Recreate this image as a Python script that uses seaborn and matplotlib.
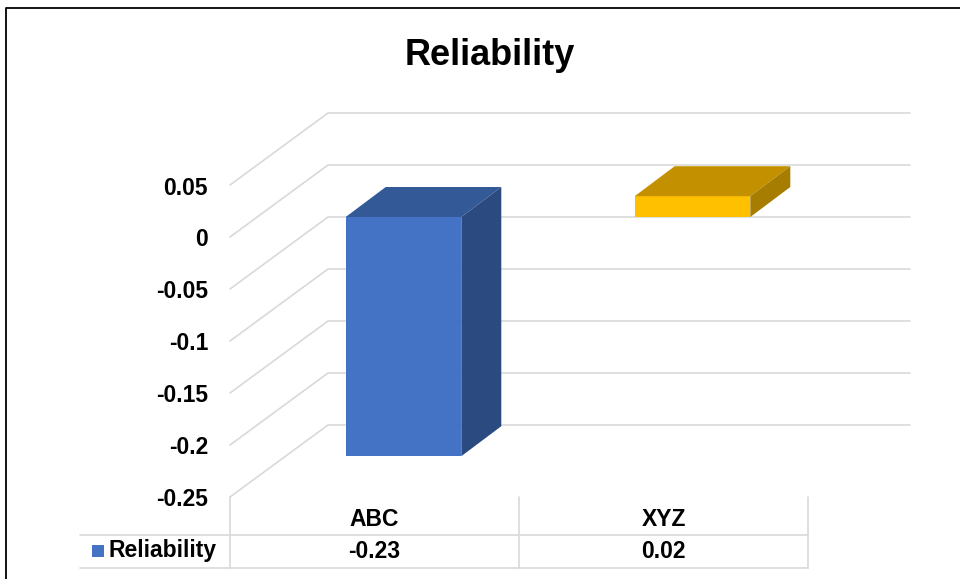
import numpy as np
import pandas as pd
import matplotlib
matplotlib.use('Agg')
import matplotlib.pyplot as plt
import seaborn as sns
from matplotlib.patches import Polygon, Rectangle
from matplotlib.lines import Line2D

# ---- data ----
categories = ['ABC', 'XYZ']
values = [-0.23, 0.02]
series_name = 'Reliability'
value_labels = ['-0.23', '0.02']
yticks = [-0.25, -0.2, -0.15, -0.1, -0.05, 0, 0.05]
ytick_labels = ['-0.25', '-0.2', '-0.15', '-0.1', '-0.05', '0', '0.05']
title = 'Reliability'

front_colors = ['#4472C4', '#FFC000']
top_colors = ['#335A96', '#C39100']
side_colors = ['#2B4A80', '#A67D00']
grid_color = '#D9D9D9'

sns.set_theme(style='white')
plt.rcParams['font.family'] = ['Liberation Sans', 'DejaVu Sans']
plt.rcParams['font.weight'] = 'bold'

W, H = 960, 579
fig = plt.figure(figsize=(W / 100, H / 100), dpi=100)
fig.patch.set_facecolor('white')
ax = fig.add_axes([259 / W, (H - 477) / H, 578 / W, 312 / H])
df = pd.DataFrame({'cat': categories, 'val': values})
sns.barplot(data=df, x='cat', y='val', hue='cat', palette=front_colors,
            width=0.4, saturation=1, legend=False, ax=ax, linewidth=0)
ax.set_xlim(-0.5, 1.5)
ax.set_ylim(min(yticks), max(yticks))
ax.axis('off')

to_fig = fig.transFigure.inverted()


def px(x, y, dx=0.0, dy=0.0):
    p = ax.transData.transform((x, y))
    return to_fig.transform((p[0] + dx, p[1] + dy))


FRONT = (-29, -20)
BACK = (69, 52)
DEPTH = (40, 30)

# walls / gridlines
for v, lab in zip(yticks, ytick_labels):
    f = px(-0.5, v, *FRONT)
    b = px(-0.5, v, *BACK)
    br = px(1.5, v, BACK[0] + 4, BACK[1])
    fig.add_artist(Line2D([f[0], b[0], br[0]], [f[1], b[1], br[1]],
                          color=grid_color, lw=1.2, zorder=-1,
                          transform=fig.transFigure))
    t = px(-0.5, v, FRONT[0] - 22, FRONT[1] - 3)
    fig.text(t[0], t[1], lab, ha='right', va='center', fontsize=16.5,
             fontweight='bold', color='black')

# 3D faces of the bars
for i, patch in enumerate(ax.patches[:len(values)]):
    x0 = patch.get_x()
    x1 = x0 + patch.get_width()
    ya = patch.get_y()
    yb = ya + patch.get_height()
    ytop, ybot = max(ya, yb), min(ya, yb)
    top = [px(x0, ytop), px(x1, ytop), px(x1, ytop, *DEPTH), px(x0, ytop, *DEPTH)]
    side = [px(x1, ybot), px(x1, ytop), px(x1, ytop, *DEPTH), px(x1, ybot, *DEPTH)]
    fig.add_artist(Polygon(top, closed=True, facecolor=top_colors[i],
                           edgecolor='none', transform=fig.transFigure, zorder=1))
    fig.add_artist(Polygon(side, closed=True, facecolor=side_colors[i],
                           edgecolor='none', transform=fig.transFigure, zorder=1))

# data table
ymin = min(yticks)
for bnd in [-0.5, 0.5, 1.5]:
    a = px(bnd, ymin, FRONT[0], FRONT[1])
    c = px(bnd, ymin, FRONT[0], FRONT[1] - 71)
    fig.add_artist(Line2D([a[0], c[0]], [a[1], c[1]], color=grid_color, lw=1.2,
                          transform=fig.transFigure))
for dy in [-38, -71]:
    a = px(-0.5, ymin, FRONT[0] - 150, FRONT[1] + dy)
    c = px(1.5, ymin, FRONT[0], FRONT[1] + dy)
    fig.add_artist(Line2D([a[0], c[0]], [a[1], c[1]], color=grid_color, lw=1.2,
                          transform=fig.transFigure))

for i, (cat, vl) in enumerate(zip(categories, value_labels)):
    t = px(i, ymin, FRONT[0], FRONT[1] - 23)
    fig.text(t[0], t[1], cat, ha='center', va='center', fontsize=16.5,
             fontweight='bold', color='black')
    t = px(i, ymin, FRONT[0], FRONT[1] - 55)
    fig.text(t[0], t[1], vl, ha='center', va='center', fontsize=16.5,
             fontweight='bold', color='black')

# legend key in table
k0 = px(-0.5, ymin, FRONT[0] - 138, FRONT[1] - 60)
k1 = px(-0.5, ymin, FRONT[0] - 126, FRONT[1] - 48)
fig.add_artist(Rectangle((k0[0], k0[1]), k1[0] - k0[0], k1[1] - k0[1],
                         facecolor=front_colors[0], edgecolor='none',
                         transform=fig.transFigure))
t = px(-0.5, ymin, FRONT[0] - 122, FRONT[1] - 54)
fig.text(t[0], t[1], series_name, ha='left', va='center', fontsize=16.5,
         fontweight='bold', color='black')

# title
fig.text(490 / W, 1 - 65 / H, title, ha='center', va='baseline', fontsize=26,
         fontweight='bold', color='black')

# chart frame (partially visible)
fig.add_artist(Line2D([6 / W, 6 / W, 1.0], [0.0, 1 - 8 / H, 1 - 8 / H],
                      color='black', lw=1.3, transform=fig.transFigure))

fig.savefig('out.png', dpi=100, facecolor='white')
